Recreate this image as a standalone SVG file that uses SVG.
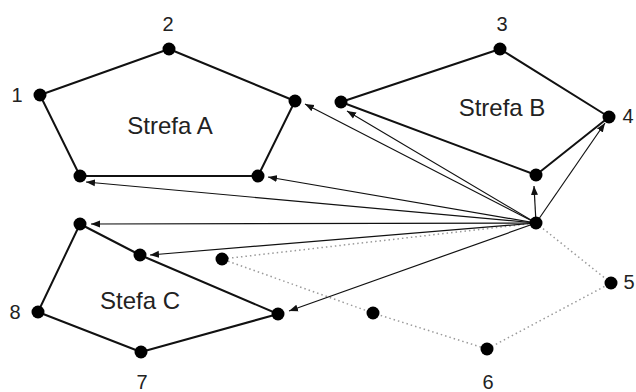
<svg xmlns="http://www.w3.org/2000/svg" width="636" height="392" viewBox="0 0 636 392">
  <style>
    .zone { fill: none; stroke: #111; stroke-width: 2; stroke-linejoin: round; }
    .dotted { fill: none; stroke: #9a9a9a; stroke-width: 1.5; stroke-dasharray: 1.5 3; }
    .arrow { fill: none; stroke: #111; stroke-width: 1.2; marker-end: url(#head); }
    .pt { fill: #000; }
    .num { font-family: "Liberation Sans", Arial, sans-serif; font-size: 20px; fill: #222; text-anchor: middle; dominant-baseline: central; }
    .zlabel { font-family: "Liberation Sans", Arial, sans-serif; font-size: 24px; fill: #222; text-anchor: middle; dominant-baseline: central; }
  </style>
  <defs>
    <marker id="head" markerWidth="10" markerHeight="8" refX="9" refY="4" orient="auto" markerUnits="userSpaceOnUse">
      <path d="M0,0.5 L9,4 L0,7.5 Z" fill="#111"/>
    </marker>
  </defs>
  <rect width="636" height="392" fill="#fff"/>

  <!-- zone outlines -->
  <g id="zone-a">
    <polygon class="zone" points="40,95 169,49 295,101 258,176 80,176"/>
    <text class="zlabel" x="170" y="125">Strefa A</text>
  </g>
  <g id="zone-b">
    <polygon class="zone" points="341,102 500,49 609,117 536,175"/>
    <text class="zlabel" x="502" y="107">Strefa B</text>
  </g>
  <g id="zone-c">
    <polygon class="zone" points="80,224 140,255 278,314 141,352 38,312"/>
    <text class="zlabel" x="140" y="300">Stefa C</text>
  </g>
  <g id="route-dotted">
    <polygon class="dotted" points="536,223 611,283 487,349 373,313 222,259"/>
  </g>

  <!-- connectors from the hub -->
  <g id="connectors">
    <line class="arrow" x1="536" y1="223" x2="305" y2="104"/>
    <line class="arrow" x1="536" y1="223" x2="268" y2="177"/>
    <line class="arrow" x1="536" y1="223" x2="86" y2="182"/>
    <line class="arrow" x1="536" y1="223" x2="347" y2="111"/>
    <line class="arrow" x1="536" y1="223" x2="534" y2="186"/>
    <line class="arrow" x1="536" y1="223" x2="605" y2="123"/>
    <line class="arrow" x1="536" y1="223" x2="91" y2="224"/>
    <line class="arrow" x1="536" y1="223" x2="150" y2="255"/>
    <line class="arrow" x1="536" y1="223" x2="289" y2="311"/>
  </g>

  <!-- points -->
  <g id="n1"><circle class="pt" cx="40" cy="95" r="6.5"/><text class="num" x="17" y="95">1</text></g>
  <g id="n2"><circle class="pt" cx="169" cy="49" r="6.5"/><text class="num" x="168" y="24">2</text></g>
  <g id="n-a3"><circle class="pt" cx="295" cy="101" r="6.5"/></g>
  <g id="n-a4"><circle class="pt" cx="258" cy="176" r="6.5"/></g>
  <g id="n-a5"><circle class="pt" cx="80" cy="176" r="6.5"/></g>
  <g id="n-b1"><circle class="pt" cx="341" cy="102" r="6.5"/></g>
  <g id="n3"><circle class="pt" cx="500" cy="49" r="6.5"/><text class="num" x="502" y="24">3</text></g>
  <g id="n4"><circle class="pt" cx="609" cy="117" r="6.5"/><text class="num" x="628" y="116">4</text></g>
  <g id="n-b4"><circle class="pt" cx="536" cy="175" r="6.5"/></g>
  <g id="hub"><circle class="pt" cx="536" cy="223" r="6.5"/></g>
  <g id="n5"><circle class="pt" cx="611" cy="283" r="6.5"/><text class="num" x="629" y="282">5</text></g>
  <g id="n6"><circle class="pt" cx="487" cy="349" r="6.5"/><text class="num" x="488" y="382">6</text></g>
  <g id="n-d1"><circle class="pt" cx="373" cy="313" r="6.5"/></g>
  <g id="n-d2"><circle class="pt" cx="222" cy="259" r="6.5"/></g>
  <g id="n-c1"><circle class="pt" cx="80" cy="224" r="6.5"/></g>
  <g id="n-c2"><circle class="pt" cx="140" cy="255" r="6.5"/></g>
  <g id="n-c3"><circle class="pt" cx="278" cy="314" r="6.5"/></g>
  <g id="n7"><circle class="pt" cx="141" cy="352" r="6.5"/><text class="num" x="142" y="382">7</text></g>
  <g id="n8"><circle class="pt" cx="38" cy="312" r="6.5"/><text class="num" x="15" y="312">8</text></g>
</svg>
